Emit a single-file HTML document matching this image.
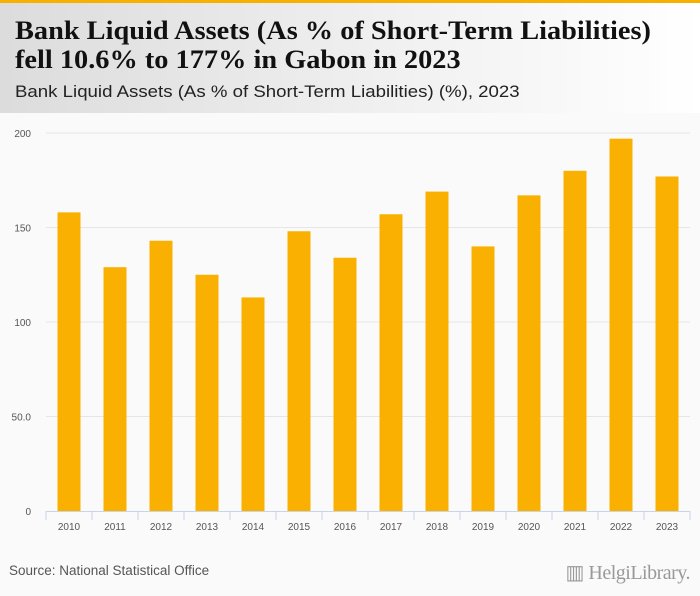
<!DOCTYPE html>
<html><head><meta charset="utf-8"><style>
body{margin:0;width:700px;height:596px;background:#fafafa;font-family:"Liberation Sans",sans-serif;overflow:hidden;position:relative}
#hdr{position:absolute;left:0;top:0;width:700px;height:113px;background:linear-gradient(90deg,#dcdcdc 0%,#f0f0f0 55%,#fff 100%);border-top:3px solid #f7b000;box-sizing:border-box}
#title{position:absolute;left:15px;top:13px;font-family:"Liberation Serif",serif;font-weight:bold;font-size:26px;line-height:29px;color:#111;transform:scaleX(1.09);transform-origin:0 0;white-space:nowrap}
#sub{position:absolute;left:15px;top:80px;font-size:16.5px;color:#222;transform:scaleX(1.13);transform-origin:0 0;white-space:nowrap}
#src{position:absolute;left:9px;top:563px;font-size:13.5px;color:#555}
#logo{position:absolute;right:10px;top:560px;font-family:"Liberation Serif",serif;font-size:20px;color:#999;letter-spacing:-0.5px}
</style></head><body>
<div id="hdr">
<div id="title">Bank Liquid Assets (As % of Short-Term Liabilities)<br>fell 10.6% to 177% in Gabon in 2023</div>
<div id="sub">Bank Liquid Assets (As % of Short-Term Liabilities) (%), 2023</div>
</div>
<svg id="chart" width="700" height="596" style="position:absolute;left:0;top:0"></svg>
<div id="src">Source: National Statistical Office</div>
<div id="logo">▥ HelgiLibrary.</div>
<script>
const categories=["2010","2011","2012","2013","2014","2015","2016","2017","2018","2019","2020","2021","2022","2023"];
const values=[158,129,143,125,113,148,134,157,169,140,167,180,197,177];
const yTicks=[0,50,100,150,200];
const yTickLabels=["0","50.0","100","150","200"];
const svg=document.getElementById('chart');
const NS='http://www.w3.org/2000/svg';
const x0=46,x1=690,y0=511,y1=133;
const bw=(x1-x0)/categories.length;
const y=v=>y0-(v/200)*(y0-y1);
const xc=i=>x0+bw*(i+0.5);
function mk(t,a){const e=document.createElementNS(NS,t);for(const k in a)e.setAttribute(k,a[k]);svg.appendChild(e);return e;}
yTicks.forEach((t,i)=>{
 if(t>0){const g=mk('line',{x1:x0,x2:x1,y1:y(t),y2:y(t),stroke:'#e6e6e6','stroke-width':1});
 
 }
 const l=mk('text',{x:31,y:y(t)+4,'text-anchor':'end','font-size':10,fill:'#555','font-family':'Liberation Sans, sans-serif'});
 l.textContent=yTickLabels[i];
 
 
});
values.forEach((v,i)=>{
 const r=mk('rect',{x:xc(i)-11.5,y:y(v),width:23,height:y0-y(v),fill:'#f9b000'});
 
 
 const t=mk('text',{x:xc(i),y:530,'text-anchor':'middle','font-size':10,fill:'#555','font-family':'Liberation Sans, sans-serif'});
 t.textContent=categories[i];
 
 
});
const ax=mk('line',{x1:x0,x2:x1,y1:y0+0.5,y2:y0+0.5,stroke:'#c8d4e8'});


for(let i=0;i<=categories.length;i++){
 const tk=mk('line',{x1:x0+bw*i,x2:x0+bw*i,y1:y0,y2:y0+9,stroke:'#c8d4e8'});
 
 
}
</script>
</body></html>
